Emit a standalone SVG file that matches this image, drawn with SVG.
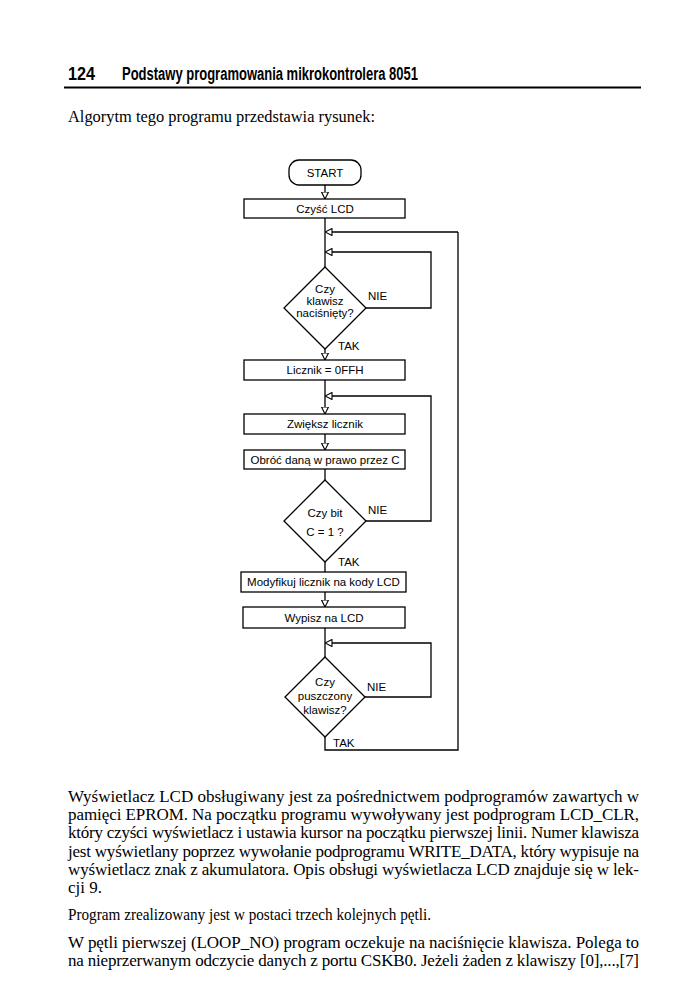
<svg xmlns="http://www.w3.org/2000/svg" width="677" height="991" viewBox="0 0 677 991">
<defs>
<marker id="ah" viewBox="0 0 8 8" refX="7.5" refY="4" markerWidth="8" markerHeight="8" markerUnits="userSpaceOnUse" orient="auto">
<path d="M0.5,0.5 L7.5,4 L0.5,7.5 z" fill="#fff" stroke="#000" stroke-width="1.1"/>
</marker>
</defs>
<style>
.box{fill:#fff;stroke:#000;stroke-width:1.3}
.ln{fill:none;stroke:#000;stroke-width:1.3}
.ft{font-family:"Liberation Sans",Arial,sans-serif;font-size:11.5px;fill:#000}
.c{text-anchor:middle}
.body{font-family:"Liberation Serif","Times New Roman",serif;font-size:17px;fill:#000}
.hd{font-family:"Liberation Sans",Arial,sans-serif;font-weight:bold;font-size:18px;fill:#000}
</style>
<rect width="677" height="991" fill="#fff"/>
<g id="header">
<text class="hd" x="68" y="80" textLength="27" lengthAdjust="spacingAndGlyphs">124</text>
<text class="hd" x="122" y="80" textLength="296" lengthAdjust="spacingAndGlyphs">Podstawy programowania mikrokontrolera 8051</text>
<line x1="64" y1="87.5" x2="641" y2="87.5" stroke="#000" stroke-width="2"/>
</g>
<text class="body" x="68" y="122" textLength="307" lengthAdjust="spacingAndGlyphs">Algorytm tego programu przedstawia rysunek:</text>

<g id="connectors">
<path class="ln" d="M325,185 V199" marker-end="url(#ah)"/>
<path class="ln" d="M325,218 V267"/>
<path class="ln" d="M458,232 H325" marker-end="url(#ah)"/>
<path class="ln" d="M366,308 H431 V252 H325" marker-end="url(#ah)"/>
<path class="ln" d="M325,349 V360" marker-end="url(#ah)"/>
<path class="ln" d="M325,380 V414" marker-end="url(#ah)"/>
<path class="ln" d="M366,521 H431 V396 H325" marker-end="url(#ah)"/>
<path class="ln" d="M325,434 V450" marker-end="url(#ah)"/>
<path class="ln" d="M325,469 V480"/>
<path class="ln" d="M325,562 V572"/>
<path class="ln" d="M325,592 V607" marker-end="url(#ah)"/>
<path class="ln" d="M325,628 V657"/>
<path class="ln" d="M365,697 H431 V643 H325" marker-end="url(#ah)"/>
<path class="ln" d="M325,737 V750 H458 V232"/>
<text class="ft" x="368" y="300">NIE</text>
<text class="ft" x="338" y="350">TAK</text>
<text class="ft" x="368" y="514">NIE</text>
<text class="ft" x="338" y="566">TAK</text>
<text class="ft" x="367" y="691">NIE</text>
<text class="ft" x="333" y="747">TAK</text>
</g>

<g id="start">
<rect class="box" x="289" y="160" width="72" height="25" rx="10"/>
<text class="ft c" x="325" y="176.5">START</text>
</g>
<g id="czysc">
<rect class="box" x="244" y="199" width="161" height="19"/>
<text class="ft c" x="325" y="212.5">Czyść  LCD</text>
</g>
<g id="dec1">
<polygon class="box" points="325,267 366,308 325,349 284,308"/>
<text class="ft c" x="325" y="293">Czy</text>
<text class="ft c" x="325" y="305">klawisz</text>
<text class="ft c" x="325" y="317">naciśnięty?</text>
</g>
<g id="licznik">
<rect class="box" x="244" y="360" width="161" height="20"/>
<text class="ft c" x="325" y="374">Licznik = 0FFH</text>
</g>
<g id="zwieksz">
<rect class="box" x="244" y="414" width="161" height="20"/>
<text class="ft c" x="325" y="428">Zwiększ licznik</text>
</g>
<g id="obroc">
<rect class="box" x="244" y="450" width="161" height="19"/>
<text class="ft c" x="325" y="463.5">Obróć daną w prawo przez C</text>
</g>
<g id="dec2">
<polygon class="box" points="325,480 366,521 325,562 284,521"/>
<text class="ft c" x="325" y="517">Czy bit</text>
<text class="ft c" x="325" y="536">C = 1 ?</text>
</g>
<g id="modyfikuj">
<rect class="box" x="241" y="572" width="165" height="20"/>
<text class="ft c" x="323.5" y="586">Modyfikuj licznik na kody  LCD</text>
</g>
<g id="wypisz">
<rect class="box" x="243" y="607" width="162" height="21"/>
<text class="ft c" x="324" y="621.5">Wypisz na  LCD</text>
</g>
<g id="dec3">
<polygon class="box" points="325,657 365,697 325,737 285,697"/>
<text class="ft c" x="325" y="686">Czy</text>
<text class="ft c" x="325" y="700">puszczony</text>
<text class="ft c" x="325" y="714">klawisz?</text>
</g>

<g id="body">
<text class="body" x="68" y="802" textLength="571">Wyświetlacz LCD obsługiwany jest za pośrednictwem podprogramów zawartych w</text>
<text class="body" x="68" y="820" textLength="571">pamięci EPROM. Na początku programu wywoływany jest podprogram LCD_CLR,</text>
<text class="body" x="68" y="838" textLength="571">który czyści wyświetlacz i ustawia kursor na początku pierwszej linii. Numer klawisza</text>
<text class="body" x="68" y="857" textLength="571">jest wyświetlany poprzez wywołanie podprogramu WRITE_DATA, który wypisuje na</text>
<text class="body" x="68" y="875" textLength="571">wyświetlacz znak z akumulatora. Opis obsługi wyświetlacza LCD znajduje się w lek-</text>
<text class="body" x="68" y="893">cji 9.</text>
<text class="body" x="68" y="920" textLength="363" lengthAdjust="spacingAndGlyphs">Program zrealizowany jest w postaci trzech kolejnych pętli.</text>
<text class="body" x="68" y="948" textLength="571">W pętli pierwszej (LOOP_NO) program oczekuje na naciśnięcie klawisza. Polega to</text>
<text class="body" x="68" y="966" textLength="571">na nieprzerwanym odczycie danych z portu CSKB0. Jeżeli żaden z klawiszy [0],...,[7]</text>
</g>
</svg>
